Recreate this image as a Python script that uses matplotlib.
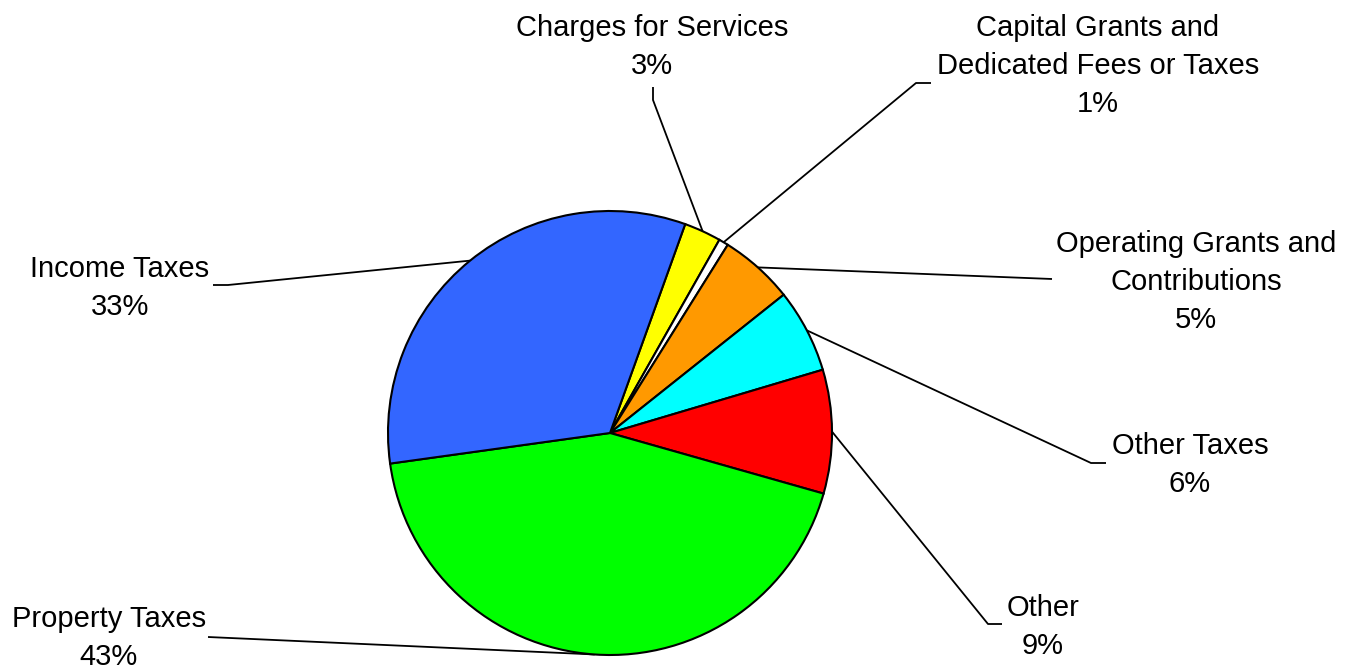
import numpy as np
import matplotlib
matplotlib.use("Agg")
import matplotlib.pyplot as plt

# ---- data -------------------------------------------------------------------
categories = ["Charges for Services",
              "Capital Grants and\nDedicated Fees or Taxes",
              "Operating Grants and\nContributions",
              "Other Taxes",
              "Other",
              "Property Taxes",
              "Income Taxes"]
shares = [2.7, 0.7, 5.4, 6.1, 9.0, 43.4, 32.7]
colors = ["#FFFF00", "#FFFFFF", "#FF9900", "#00FFFF", "#FF0000", "#00FF00", "#3366FF"]

# ---- layout (pixel coords, y measured from top) -----------------------------
W, H = 1349, 671
CX, CY, R = 610, 433, 222
label_xy = [(652, 28), (1098, 28), (1196, 244), (1190, 446),
            (1043, 608), (109, 619), (120, 269)]
# leader: elbow point, then end point near the label
leaders = [[(653, 100), (653, 87)],
           [(916, 83), (931, 83)],
           [(1052, 279)],
           [(1091, 463), (1106, 463)],
           [(988, 624), (1002, 624)],
           [(208, 637)],
           [(228, 285), (213, 285)]]
LINE_STEP = 38

plt.rcParams["font.family"] = ["Liberation Sans", "DejaVu Sans"]

fig = plt.figure(figsize=(W / 100, H / 100), dpi=100)
ax = fig.add_axes([0, 0, 1, 1])

wedges, _ = ax.pie(shares, colors=colors, startangle=70.2, counterclock=False,
                   center=(CX, H - CY), radius=R,
                   wedgeprops=dict(edgecolor="black", linewidth=1.5))

for w, cat, val, (lx, ly), pts in zip(wedges, categories, shares, label_xy, leaders):
    # anchor on the rim at the wedge mid-angle
    mid = np.deg2rad((w.theta1 + w.theta2) / 2)
    ax0 = CX + R * np.cos(mid)
    ay0 = (H - CY) + R * np.sin(mid)
    xs = [ax0] + [p[0] for p in pts]
    ys = [ay0] + [H - p[1] for p in pts]
    ax.plot(xs, ys, color="black", lw=1.3, solid_capstyle="butt", zorder=0)

    lines = cat.split("\n") + [f"{val:.0f}%"]
    for i, t in enumerate(lines):
        ax.text(lx, H - (ly + i * LINE_STEP), t, ha="center", va="center",
                fontsize=21, color="black")

ax.set_xlim(0, W)
ax.set_ylim(0, H)
ax.set_aspect("equal")
ax.axis("off")

fig.savefig("out.png", dpi=100)
